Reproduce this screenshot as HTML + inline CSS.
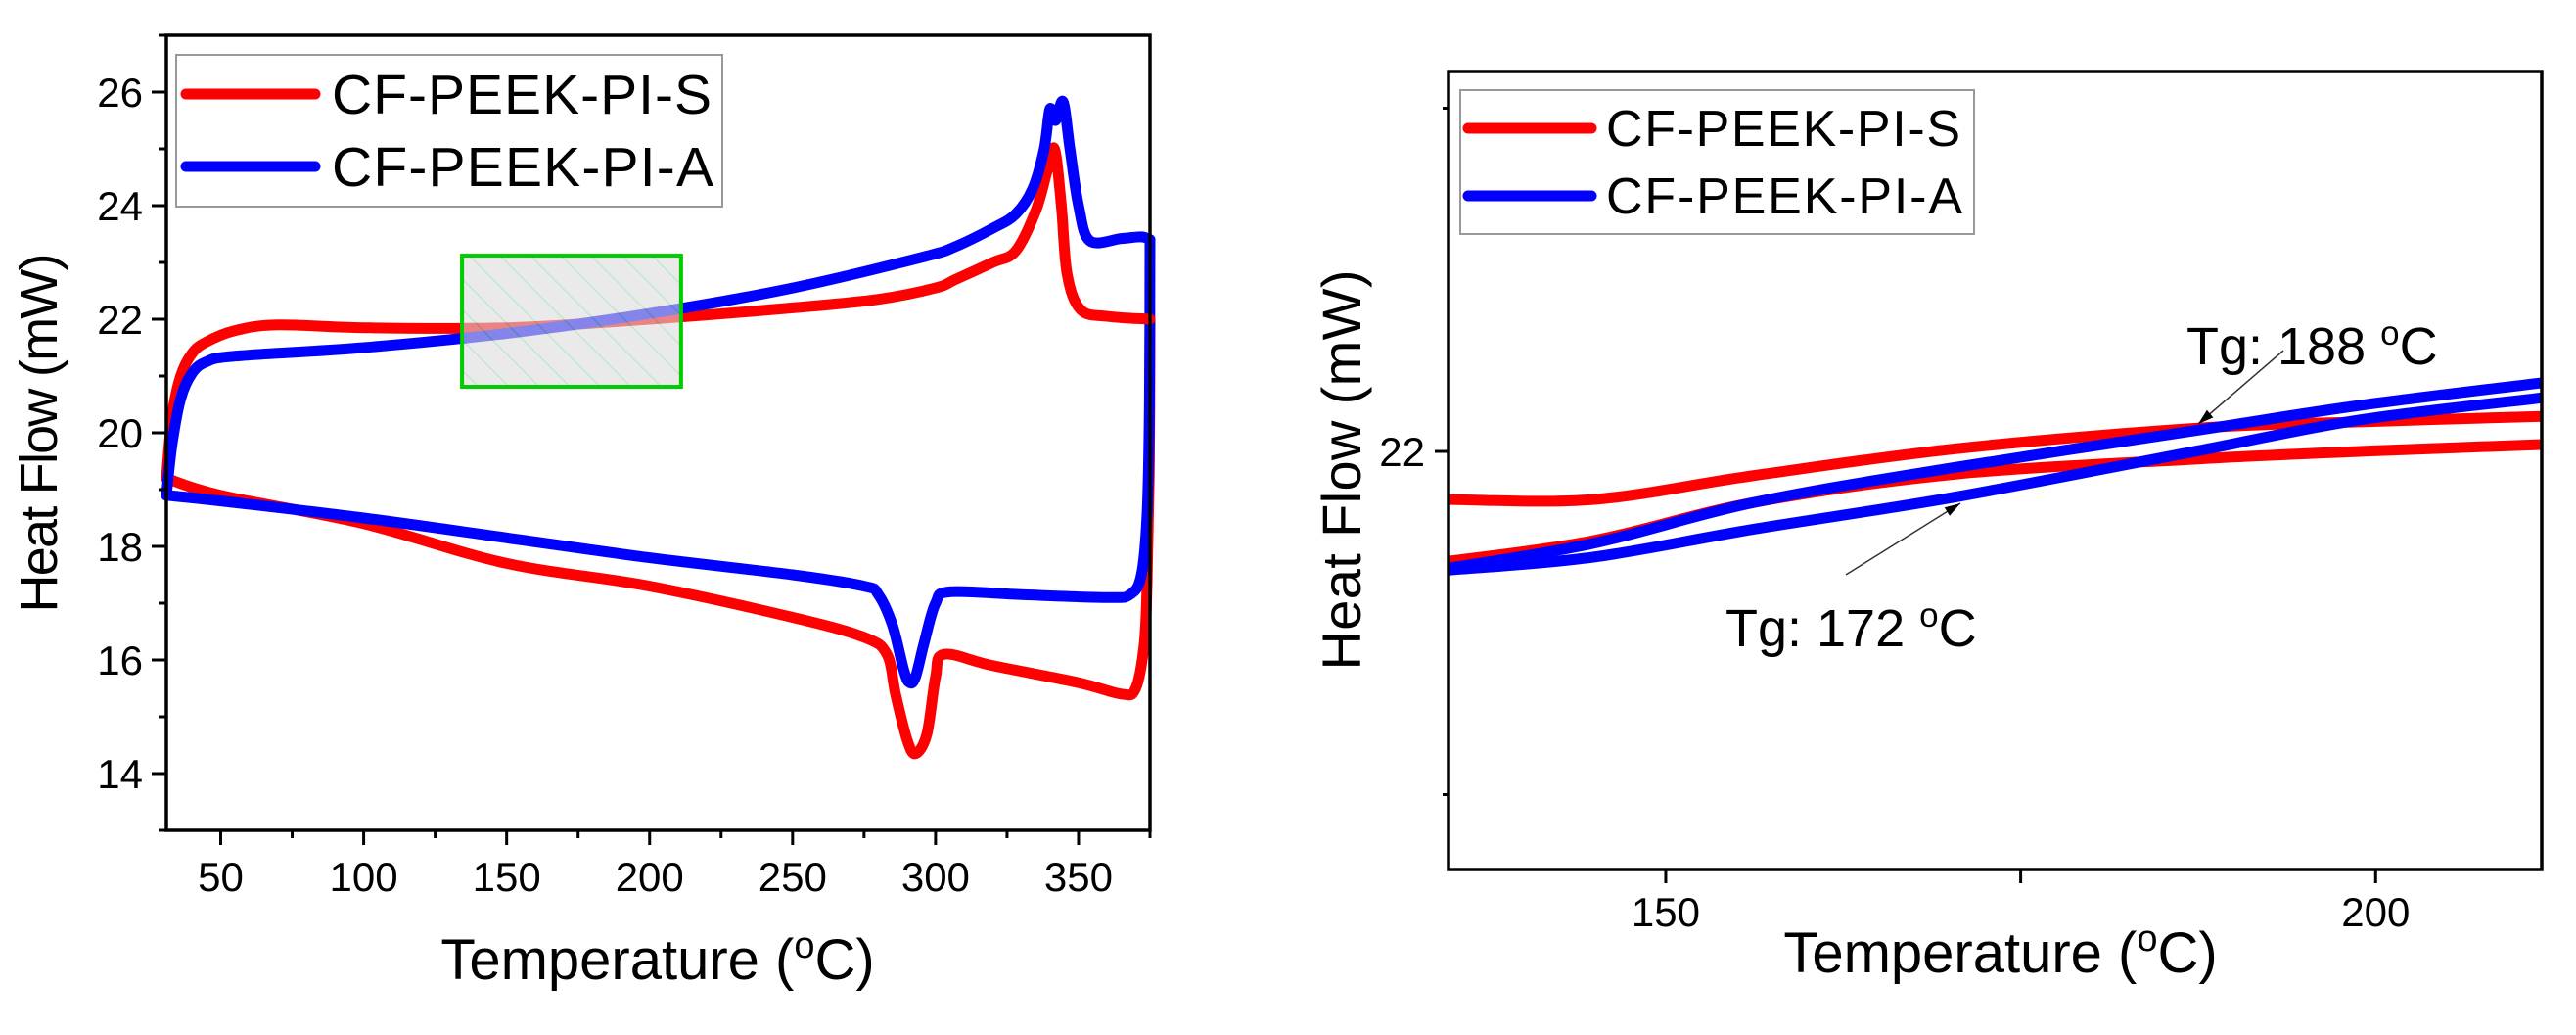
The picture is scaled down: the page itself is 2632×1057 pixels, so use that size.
<!DOCTYPE html>
<html><head><meta charset="utf-8"><style>
html,body{margin:0;padding:0;background:#fff;width:2632px;height:1057px;overflow:hidden}
svg{display:block}
text{font-family:"Liberation Sans",Arial,sans-serif;fill:#000}
</style></head><body>
<svg id="fig" width="2632" height="1057" viewBox="0 0 2632 1057" xmlns="http://www.w3.org/2000/svg">
<defs>
<pattern id="hatch" patternUnits="userSpaceOnUse" width="22" height="22" patternTransform="rotate(-45)">
<rect width="22" height="22" fill="#dcdcdc"/>
<line x1="0" y1="0" x2="0" y2="22" stroke="#7fd49a" stroke-width="2"/>
</pattern>
</defs>
<g id="left"></g>
<g id="right"></g>
</svg>
<script>
// ---------- Left chart data ----------
const leftXTicks = [50,100,150,200,250,300,350];
const leftYTicks = [14,16,18,20,22,24,26];
const redHeatT = [31,33,36,40,45,55,70,100,150,200,250,280,300,307,320,328,335,339,341.6,344,346,350.7,360,375];
const redHeatV = [19.2,20.3,21.0,21.4,21.6,21.8,21.9,21.85,21.85,22.0,22.2,22.35,22.55,22.7,23.0,23.2,23.9,24.6,25.0,24.0,22.8,22.17,22.05,22.0];
const redCoolT = [375,374.8,374,373,370,365,350,320,303,300,297,293,290,286,283,275,250,200,150,100,50,31];
const redCoolV = [22.0,19.5,17.4,16.3,15.5,15.4,15.6,15.9,16.1,15.7,14.7,14.35,14.6,15.4,16.1,16.4,16.75,17.3,17.7,18.4,18.9,19.2];
const blueHeatT = [31,33,36,40,45,55,100,150,200,250,296,307,320,328,334,338,340,342,344.6,347,350,354,365,372,375];
const blueHeatV = [18.9,19.8,20.6,21.05,21.25,21.35,21.5,21.75,22.1,22.55,23.1,23.28,23.6,23.85,24.3,25.0,25.7,25.5,25.83,25.0,24.0,23.38,23.42,23.45,23.4];
const blueCoolT = [375,374.8,374,372,368,360,330,305,300,296,293,291,289,285,280,275,250,200,150,100,50,31];
const blueCoolV = [23.4,20.5,18.6,17.5,17.15,17.1,17.15,17.2,17.0,16.3,15.7,15.6,15.8,16.6,17.15,17.3,17.5,17.8,18.15,18.5,18.8,18.9];
// ---------- Right chart data ----------
const rightXTicks = [150,175,200];
const rightXLabels = ["150","","200"];
const rightYTicks = [22.5,22.0,21.5];
const rightYLabels = ["","22",""];
const rT = [134.7,144.9,156.3,170.5,187.5,198.9,211.7];
const redUpper = [21.93,21.93,21.965,22.004,22.034,22.043,22.051];
const redLower = [21.84,21.87,21.926,21.967,21.989,22.0,22.01];
const blueUpper = [21.83,21.866,21.926,21.977,22.031,22.067,22.1];
const blueLower = [21.827,21.846,21.887,21.934,22.001,22.046,22.078];

const NS="http://www.w3.org/2000/svg";
function mk(tag,attrs,parent){const e=document.createElementNS(NS,tag);for(const k in attrs)e.setAttribute(k,attrs[k]);parent.appendChild(e);return e;}
function smooth(pts){let d="M"+pts[0][0].toFixed(1)+","+pts[0][1].toFixed(1);
 for(let i=0;i<pts.length-1;i++){const p0=pts[Math.max(0,i-1)],p1=pts[i],p2=pts[i+1],p3=pts[Math.min(pts.length-1,i+2)];
 const c1=[p1[0]+(p2[0]-p0[0])/6,p1[1]+(p2[1]-p0[1])/6],c2=[p2[0]-(p3[0]-p1[0])/6,p2[1]-(p3[1]-p1[1])/6];
 d+=" C"+c1[0].toFixed(1)+","+c1[1].toFixed(1)+" "+c2[0].toFixed(1)+","+c2[1].toFixed(1)+" "+p2[0].toFixed(1)+","+p2[1].toFixed(1);}
 return d;}

// ---------- Left chart ----------
(function(){
const g=document.getElementById('left');
const L=170,R=1175,T=36,B=848;
const x=t=>L+(t-31)*(R-L)/(375-31);
const y=v=>B-(v-13)*(B-T)/(27-13);
function series(ts,vs,color,name){const p=mk('path',{d:smooth(ts.map((t,i)=>[x(t),y(vs[i])])),fill:'none',stroke:color,'stroke-width':11,'stroke-linejoin':'round','stroke-linecap':'round'},g);
 
 }
series(redCoolT,redCoolV,'#ff0000','red-cooling-curve');
series(blueCoolT,blueCoolV,'#0000ff','blue-cooling-curve');
series(redHeatT,redHeatV,'#ff0000','red-heating-curve');
series(blueHeatT,blueHeatV,'#0000ff','blue-heating-curve');
const zb=mk('rect',{x:x(134.4),y:y(23.12),width:x(211)-x(134.4),height:y(20.81)-y(23.12),fill:'url(#hatch)','fill-opacity':0.6,stroke:'#00cc00','stroke-width':4},g);


const fr=mk('rect',{x:L,y:T,width:R-L,height:B-T,fill:'none',stroke:'#000','stroke-width':3.5},g);


for(let t=50;t<=375;t+=25){const maj=t%50===0;mk('line',{x1:x(t),x2:x(t),y1:B,y2:B+(maj?15:8),stroke:'#000','stroke-width':3},g);}
leftXTicks.forEach(t=>{const e=mk('text',{x:x(t),y:B+62,'font-size':42,'text-anchor':'middle'},g);e.textContent=t;
 
 });
for(let v=13;v<=27;v+=1){const maj=v%2===0;mk('line',{x1:L,x2:L-(maj?15:8),y1:y(v),y2:y(v),stroke:'#000','stroke-width':3},g);}
leftYTicks.forEach(v=>{const e=mk('text',{x:L-24,y:y(v)+15,'font-size':42,'text-anchor':'end'},g);e.textContent=v;
 
 });
const xt=mk('text',{x:672,y:1000,'font-size':58,'text-anchor':'middle'},g);
xt.innerHTML='Temperature (<tspan dy="-22" font-size="38">o</tspan><tspan dy="22">C)</tspan>';


const yt=mk('text',{x:0,y:0,'font-size':54,'text-anchor':'middle',transform:'translate(58,442) rotate(-90)',textLength:367,lengthAdjust:'spacing'},g);
yt.textContent='Heat Flow (mW)';


const lg=mk('g',{},g);


mk('rect',{x:180,y:56,width:558,height:155,fill:'#fff',stroke:'#999','stroke-width':2},lg);
mk('line',{x1:190,x2:322,y1:96,y2:96,stroke:'#ff0000','stroke-width':11,'stroke-linecap':'round'},lg);
mk('line',{x1:190,x2:322,y1:170,y2:170,stroke:'#0000ff','stroke-width':11,'stroke-linecap':'round'},lg);
const l1=mk('text',{x:339,y:116,'font-size':57,textLength:388},lg);l1.textContent='CF-PEEK-PI-S';


const l2=mk('text',{x:339,y:190,'font-size':57,textLength:390},lg);l2.textContent='CF-PEEK-PI-A';


})();

// ---------- Right chart ----------
(function(){
const g=document.getElementById('right');
const L=1480,R=2597,T=73,B=888;
const x=t=>L+(t-134.7)*(R-L)/(211.7-134.7);
const y=v=>461-(v-22)*701;
const cp=mk('clipPath',{id:'rclip'},g);mk('rect',{x:L,y:T,width:R-L,height:B-T},cp);
function series(vs,color,name){const p=mk('path',{d:smooth(rT.map((t,i)=>[x(t),y(vs[i])])),fill:'none',stroke:color,'stroke-width':11,'clip-path':'url(#rclip)'},g);
 
 }
series(redUpper,'#ff0000','red-upper-curve');
series(redLower,'#ff0000','red-lower-curve');
series(blueLower,'#0000ff','blue-lower-curve');
series(blueUpper,'#0000ff','blue-upper-curve');
const fr=mk('rect',{x:L,y:T,width:R-L,height:B-T,fill:'none',stroke:'#000','stroke-width':3.5},g);


rightXTicks.forEach((t,i)=>{mk('line',{x1:x(t),x2:x(t),y1:B,y2:B+14,stroke:'#000','stroke-width':3},g);
 const e=mk('text',{x:x(t),y:946,'font-size':42,'text-anchor':'middle'},g);e.textContent=rightXLabels[i];
 
 });
rightYTicks.forEach((v,i)=>{mk('line',{x1:L,x2:L-(rightYLabels[i]?14:6),y1:y(v),y2:y(v),stroke:'#000','stroke-width':3},g);
 const e=mk('text',{x:L-24,y:y(v)+15,'font-size':42,'text-anchor':'end'},g);e.textContent=rightYLabels[i];
 
 });
const xt=mk('text',{x:2044,y:993,'font-size':58,'text-anchor':'middle'},g);
xt.innerHTML='Temperature (<tspan dy="-22" font-size="38">o</tspan><tspan dy="22">C)</tspan>';


const yt=mk('text',{x:0,y:0,'font-size':56,'text-anchor':'middle',transform:'translate(1390,480) rotate(-90)',textLength:409,lengthAdjust:'spacing'},g);
yt.textContent='Heat Flow (mW)';


const lg=mk('g',{},g);


mk('rect',{x:1492,y:92,width:525,height:147,fill:'#fff',stroke:'#999','stroke-width':2},lg);
mk('line',{x1:1500,x2:1626,y1:131,y2:131,stroke:'#ff0000','stroke-width':11,'stroke-linecap':'round'},lg);
mk('line',{x1:1500,x2:1626,y1:200,y2:200,stroke:'#0000ff','stroke-width':11,'stroke-linecap':'round'},lg);
const l1=mk('text',{x:1641,y:149,'font-size':52,textLength:362},lg);l1.textContent='CF-PEEK-PI-S';


const l2=mk('text',{x:1641,y:218,'font-size':52,textLength:364},lg);l2.textContent='CF-PEEK-PI-A';


function arrow(x1,y1,x2,y2,name){const a=mk('g',{},g);
 
 
 mk('line',{x1:x1,y1:y1,x2:x2,y2:y2,stroke:'#333','stroke-width':1.5},a);
 const ang=Math.atan2(y2-y1,x2-x1),s=16,w=5;
 const bx=x2-s*Math.cos(ang),by=y2-s*Math.sin(ang);
 mk('polygon',{points:`${x2},${y2} ${bx-w*Math.sin(ang)},${by+w*Math.cos(ang)} ${bx+w*Math.sin(ang)},${by-w*Math.cos(ang)}`,fill:'#000'},a);}
arrow(2333,358,2246,433,'arrow-tg-188');
arrow(1886,587,2003,514,'arrow-tg-172');
const a1=mk('text',{x:2234,y:372,'font-size':54},g);
a1.innerHTML='Tg: 188 <tspan dy="-20" font-size="35">o</tspan><tspan dy="20">C</tspan>';


const a2=mk('text',{x:1763,y:660,'font-size':54},g);
a2.innerHTML='Tg: 172 <tspan dy="-20" font-size="35">o</tspan><tspan dy="20">C</tspan>';


})();
</script>
</body></html>
